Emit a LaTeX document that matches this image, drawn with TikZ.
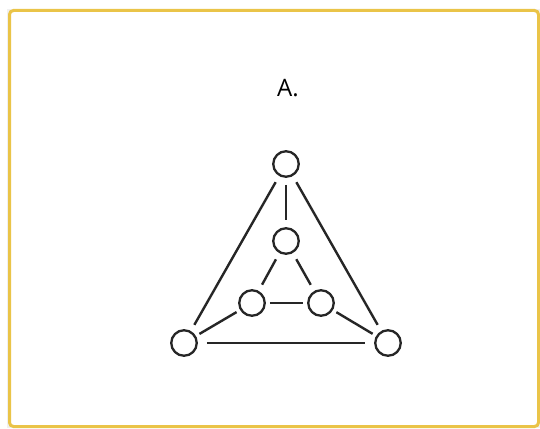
\documentclass[tikz,border=0pt]{standalone}
\usepackage{fontspec}
\setmainfont{Open Sans}
\begin{document}
\begin{tikzpicture}[x=1pt,y=-1pt,
  vtx/.style={circle,draw=black!85,line width=2.3pt,minimum size=25.5pt,inner sep=0pt},
  edg/.style={draw=black!85,line width=2.4pt,shorten <=7pt,shorten >=7pt}]
\useasboundingbox (0,0) rectangle (540,428);
\fill[black!6] (7,9) rectangle (540,428);
\draw[rounded corners=4pt,line width=3pt,draw={rgb,255:red,234;green,196;blue,72},fill=white] (9.5,10.5) rectangle (538.5,426.5);
\node[font=\fontsize{24}{28}\selectfont] (title) at (288,88) {A.};
\node[vtx] (t) at (286,164) {};
\node[vtx] (it) at (286,241) {};
\node[vtx] (il) at (252,303) {};
\node[vtx] (ir) at (321,303) {};
\node[vtx] (ol) at (184,343) {};
\node[vtx] (or) at (388,343) {};
\draw[edg] (t) -- (it);
\draw[edg] (t) -- (ol);
\draw[edg] (t) -- (or);
\draw[edg] (it) -- (il);
\draw[edg] (it) -- (ir);
\draw[edg,shorten <=4pt,shorten >=4pt] (il) -- (ir);
\draw[edg,shorten <=4pt,shorten >=4pt] (ol) -- (il);
\draw[edg,shorten <=4pt,shorten >=4pt] (or) -- (ir);
\draw[edg,shorten <=9pt,shorten >=9pt] (ol) -- (or);
\end{tikzpicture}
\end{document}
